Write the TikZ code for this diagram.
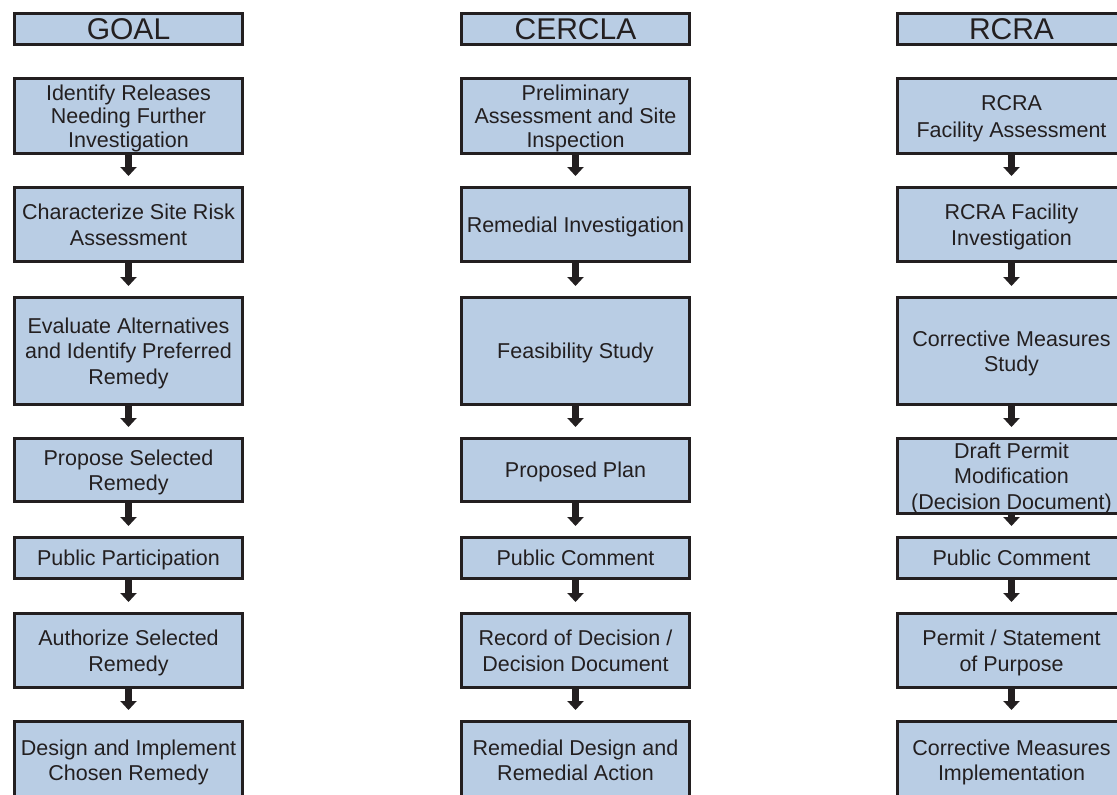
\documentclass[tikz,border=0pt]{standalone}
\usepackage{fontspec}
\setmainfont{Liberation Sans}
\usetikzlibrary{arrows.meta}
\definecolor{boxfill}{RGB}{185,205,228}
\definecolor{inkc}{RGB}{35,31,32}
\newcommand\bxfont{\fontsize{21.5}{25.5}\selectfont}
\newcommand\hdfont{\fontsize{30}{34}\selectfont}
\begin{document}
\begin{tikzpicture}[x=1pt,y=-1pt,
  box/.style={draw=inkc, line width=3pt, fill=boxfill, text=inkc,
    inner sep=0pt, minimum width=228pt, align=center, font=\bxfont,
    text depth=0pt},
  headbox/.style={box, minimum height=31pt, font=\hdfont},
  flow/.style={draw=inkc, line width=7pt,
    -{Triangle[width=16pt,length=9pt]}, shorten >=10pt}]
\useasboundingbox (0,0) rectangle (1117,795);
\clip (0,0) rectangle (1117,795);
\fill[white] (0,0) rectangle (1117,795);

% GOAL column
\node[headbox] (g0) at (128.5,29) {GOAL};
\node[box, minimum height=75pt, font=\fontsize{21.5}{23.5}\selectfont] (g1) at (128.5,116) {Identify Releases\\Needing Further\\Investigation};
\node[box, minimum height=74pt] (g2) at (128.5,224.5) {Characterize Site Risk\\Assessment};
\node[box, minimum height=107pt] (g3) at (128.5,351) {Evaluate Alternatives\\and Identify Preferred\\Remedy};
\node[box, minimum height=63pt] (g4) at (128.5,470) {Propose Selected\\Remedy};
\node[box, minimum height=41pt] (g5) at (128.5,558) {Public Participation};
\node[box, minimum height=74pt] (g6) at (128.5,650.5) {Authorize Selected\\Remedy};
\node[box, minimum height=77pt] (g7) at (128.5,760) {Design and Implement\\Chosen Remedy};

% CERCLA column
\node[headbox] (c0) at (575.5,29) {CERCLA};
\node[box, minimum height=75pt, font=\fontsize{21.5}{23.5}\selectfont] (c1) at (575.5,116) {Preliminary\\Assessment and Site\\Inspection};
\node[box, minimum height=74pt] (c2) at (575.5,224.5) {Remedial Investigation};
\node[box, minimum height=107pt] (c3) at (575.5,351) {Feasibility Study};
\node[box, minimum height=63pt] (c4) at (575.5,470) {Proposed Plan};
\node[box, minimum height=41pt] (c5) at (575.5,558) {Public Comment};
\node[box, minimum height=74pt] (c6) at (575.5,650.5) {Record of Decision /\\Decision Document};
\node[box, minimum height=77pt] (c7) at (575.5,760) {Remedial Design and\\Remedial Action};

% RCRA column
\node[headbox] (r0) at (1011.5,29) {RCRA};
\node[box, minimum height=75pt, font=\fontsize{21.5}{27}\selectfont] (r1) at (1011.5,116) {RCRA\\Facility Assessment};
\node[box, minimum height=74pt] (r2) at (1011.5,224.5) {RCRA Facility\\Investigation};
\node[box, minimum height=107pt] (r3) at (1011.5,351) {Corrective Measures\\Study};
\node[box, minimum height=75pt] (r4) at (1011.5,476) {Draft Permit\\Modification\\(Decision Document)};
\node[box, minimum height=41pt] (r5) at (1011.5,558) {Public Comment};
\node[box, minimum height=74pt] (r6) at (1011.5,650.5) {Permit / Statement\\of Purpose};
\node[box, minimum height=77pt] (r7) at (1011.5,760) {Corrective Measures\\Implementation};

% step arrows
\foreach \col in {g,c,r}{
  \foreach \a/\b in {1/2,2/3,3/4,4/5,5/6,6/7}{
    \draw[flow] (\col\a.south) -- (\col\b.north);
  }
}
\end{tikzpicture}
\end{document}
